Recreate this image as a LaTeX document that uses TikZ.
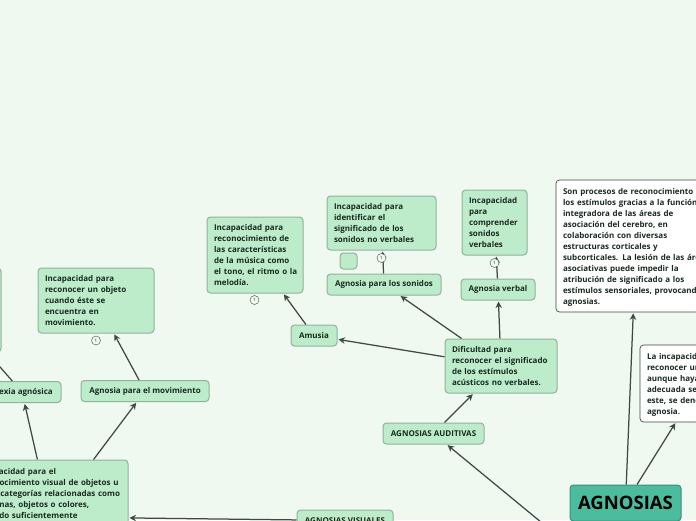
\documentclass[tikz,border=0pt]{standalone}
\usepackage{fontspec}
\setmainfont{Open Sans}[BoldFont={Open Sans Bold}]
\usetikzlibrary{arrows.meta}
\definecolor{bgc}{HTML}{EFF9EF}
\definecolor{boxf}{HTML}{BDECCA}
\definecolor{boxd}{HTML}{8FB39B}
\definecolor{mainf}{HTML}{4CBC9F}
\definecolor{maind}{HTML}{3A8F7B}
\definecolor{ink}{HTML}{1A2A20}
\definecolor{arrc}{HTML}{3C4A42}
\newcommand{\mlines}[1]{\noindent\begin{tabular}{@{}l@{}}\rule{0pt}{9.7pt}#1\end{tabular}}
\tikzset{
  base/.style={rounded corners=3.5pt,line width=1pt,inner xsep=7pt,inner ysep=0pt,text=ink,
    font=\fontsize{8}{11}\selectfont\bfseries},
  mbox/.style={base,draw=boxd,fill=boxf},
  wbox/.style={base,draw=arrc,line width=.7pt,fill=white},
  tbox/.style 2 args={text width=#1pt-14pt,minimum height=#2pt},
  lab/.style={mbox,align=center,minimum height=21pt},
  arr/.style={draw=arrc,line width=1.25pt,-{Stealth[length=6.5pt,width=6.5pt]},shorten >=1pt},
  num/.style={circle,draw=arrc,line width=.4pt,fill=bgc,inner sep=0pt,minimum size=9pt,text=ink,
    font=\fontsize{4.5}{5}\selectfont}
}
\begin{document}
\begin{tikzpicture}[x=1pt,y=-1pt]
\useasboundingbox (0,0) rectangle (696,520);
\clip (0,0) rectangle (696,520);
\fill[bgc] (0,0) rectangle (696,520);
% nodes
\node[mbox,tbox={102}{84}] (topl) at (-50,310) {};
\node[mbox,tbox={116}{65}] (movd) at (96,300.5) {\mlines{Incapacidad para\\reconocer un objeto\\cuando éste se\\encuentra en\\movimiento.}};
\node[lab,minimum width=78pt] (alex) at (22,392) {Alexia agnósica};
\node[lab,minimum width=128pt] (mov) at (145,391) {Agnosia para el movimiento};
\node[mbox,tbox={155}{114}] (vis) at (50.5,517) {\hspace*{-3pt}\mlines{Incapacidad para el\\reconocimiento visual de objetos u\\otras categorías relacionadas como\\personas, objetos o colores,\\estando suficientemente\\conservadas las funciones\\sensoriales básicas.\\~\\~\\[3pt]}};
\node[mbox,tbox={96}{76}] (musd) at (255,255) {\mlines{Incapacidad para\\reconocimiento de\\las características\\de la música como\\el tono, el ritmo o la\\melodía.}};
\node[lab,minimum width=46pt] (amu) at (314,335.5) {Amusia};
\node[mbox,tbox={109}{54}] (sond) at (381.5,223) {\mlines{Incapacidad para\\identificar el\\significado de los\\sonidos no verbales}};
\node[mbox,minimum width=17pt,minimum height=16pt,inner xsep=0pt] (small) at (348.5,261) {};
\node[lab,minimum width=114pt] (son) at (384,284.5) {Agnosia para los sonidos};
\node[mbox,tbox={65}{65}] (verd) at (494.5,222.5) {\mlines{Incapacidad\\para\\comprender\\sonidos\\verbales}};
\node[lab,minimum width=74pt] (ver) at (498,289.5) {Agnosia verbal};
\node[mbox,tbox={112}{54}] (dif) at (501,366) {\mlines{Dificultad para\\reconocer el significado\\de los estímulos\\acústicos no verbales.}};
\node[lab,minimum width=101pt] (aud) at (433.5,433.5) {AGNOSIAS AUDITIVAS};
\node[lab,minimum width=96pt] (avis) at (345,520.5) {AGNOSIAS VISUALES};
\node[wbox,tbox={160}{132}] (son2) at (636,246) {\mlines{Son procesos de reconocimiento de\\los estímulos gracias a la función\\integradora de las áreas de\\asociación del cerebro, en\\colaboración con diversas\\estructuras corticales y\\subcorticales. La lesión de las áreas\\asociativas puede impedir la\\atribución de significado a los\\estímulos sensoriales, provocando\\agnosias.}};
\node[wbox,tbox={120}{77}] (inc) at (700,383.5) {\mlines{La incapacidad de\\reconocer un objeto,\\aunque haya una\\adecuada sensación de\\este, se denomina\\agnosia.}};
\node[base,draw=maind,fill=mainf,minimum width=111pt,minimum height=36pt,align=center,
  font=\fontsize{18.5}{20}\selectfont\bfseries,text=black] (main) at (625.5,503) {AGNOSIAS};
\coordinate (mainin) at (570,546);
% connectors
\draw[arr] (main) -- (son2);
\draw[arr] (main) -- (inc);
\draw[arr] (mainin) -- (aud);
\draw[arr] (aud) -- (dif);
\draw[arr] (dif) -- (amu);
\draw[arr] (dif) -- (son);
\draw[arr] (dif) -- (ver);
\draw[arr] (amu) -- (musd);
\draw[arr] (son) -- (sond);
\draw[arr] (ver) -- (verd);
\draw[arr] (avis) -- (vis);
\draw[arr] (vis) -- (mov);
\draw[arr] (vis) -- (alex);
\draw[arr] (mov) -- (movd);
\draw[arr] (alex) -- (topl);
% markers
\node[num] (n1) at (254.5,300) {1};
\node[num] (n2) at (96,340.5) {1};
\node[num] (n3) at (381.5,258) {1};
\node[num] (n4) at (494.5,263) {1};
\end{tikzpicture}
\end{document}
